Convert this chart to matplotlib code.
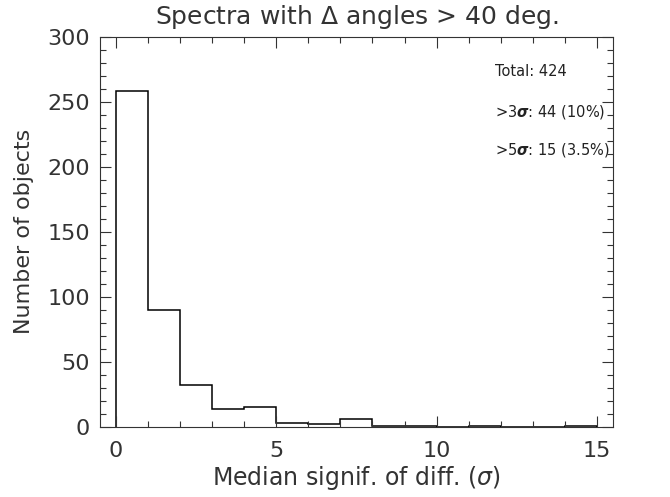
import numpy as np
import matplotlib
matplotlib.use('Agg')
import matplotlib.pyplot as plt
from matplotlib.ticker import MultipleLocator

# Histogram data
bin_edges = np.arange(0, 16, 1)
counts = [258, 90, 32, 14, 15, 3, 2, 6, 1, 1, 0, 1, 0, 0, 1]
notes = ['Total: 424', r'>3$\boldsymbol{\sigma}$: 44 (10%)', r'>5$\boldsymbol{\sigma}$: 15 (3.5%)']
note_y = [0.910, 0.808, 0.710]

plt.rcParams['font.family'] = ['DejaVu Sans']
plt.rcParams['mathtext.fontset'] = 'dejavusans'

fig = plt.figure(figsize=(6.7, 4.97), dpi=100)
ax = fig.add_axes([0.149, 0.141, 0.766, 0.785])

ax.stairs(counts, bin_edges, color='black', linewidth=1.1)

ax.set_xlim(-0.5, 15.5)
ax.set_ylim(0, 300)
ax.xaxis.set_major_locator(MultipleLocator(5))
ax.xaxis.set_minor_locator(MultipleLocator(1))
ax.yaxis.set_major_locator(MultipleLocator(50))
ax.yaxis.set_minor_locator(MultipleLocator(10))
ax.tick_params(which='both', direction='in', top=True, right=True, labelsize=16, colors='#333333')
ax.tick_params(which='major', length=8, width=0.8)
ax.tick_params(which='minor', length=4, width=0.8)
ax.tick_params(axis='x', which='major', pad=10)
ax.tick_params(axis='y', which='major', pad=7)
for s in ax.spines.values():
    s.set_linewidth(0.8)
    s.set_color('#333333')

ax.set_title(r'Spectra with $\Delta$ angles > 40 deg.', fontsize=18, color='#333333', pad=9)
ax.set_xlabel(r'Median signif. of diff. ($\sigma$)', fontsize=17, color='#333333', labelpad=2)
ax.set_ylabel('Number of objects', fontsize=16, color='#333333', labelpad=10)

for t, yy in zip(notes, note_y):
    ax.text(0.770, yy, t, transform=ax.transAxes, fontsize=10.5, color='#222222', va='center')

fig.savefig('out.png', dpi=100)
